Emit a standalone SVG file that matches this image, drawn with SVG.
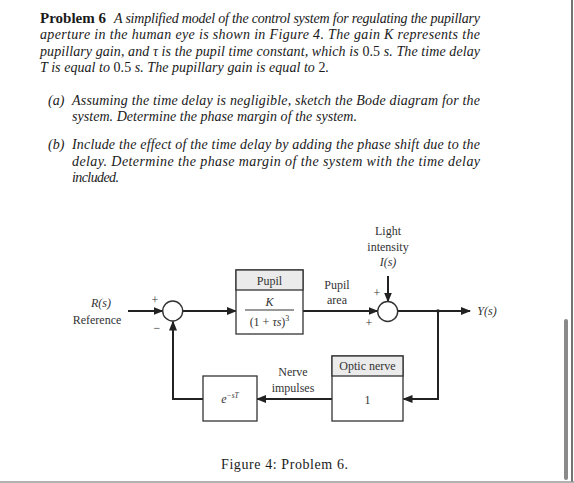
<svg xmlns="http://www.w3.org/2000/svg" width="574" height="483" viewBox="0 0 574 483">
<style>
.p{font-family:"Liberation Serif",serif;font-size:14px;font-style:italic;fill:#1a1a1a}
.r{font-style:normal}
.d{font-family:"Liberation Serif",serif;font-size:12px;fill:#333}
.di{font-family:"Liberation Serif",serif;font-size:12px;font-style:italic;fill:#333}
.ln{stroke:#222;stroke-width:2;fill:none}
.bx{stroke:#333;stroke-width:1.3;fill:#fff}
.hd{stroke:#333;stroke-width:1.3;fill:#ebebeb}
</style>
<defs>
<marker id="ah" markerWidth="10" markerHeight="8" refX="9" refY="4" orient="auto" markerUnits="userSpaceOnUse">
<path d="M0,0 L10,4 L0,8 Z" fill="#222"/>
</marker>
</defs>
<rect width="574" height="483" fill="#fff"/>
<line x1="572" y1="0" x2="572" y2="482" stroke="#444" stroke-width="1.5"/>
<line x1="0" y1="482" x2="574" y2="482" stroke="#999" stroke-width="1.5"/>
<rect x="564" y="319" width="4" height="161" rx="2" fill="#8a8a8a"/>

<g id="problem-text">
<text x="40" y="22.5" style="font-family:'Liberation Serif',serif;font-size:14px;font-weight:bold;fill:#1a1a1a" textLength="66" lengthAdjust="spacingAndGlyphs">Problem 6</text>
<text class="p" x="114" y="22.5" textLength="366" lengthAdjust="spacing">A simplified model of the control system for regulating the pupillary</text>
<text class="p" x="40" y="39" textLength="440" lengthAdjust="spacing">aperture in the human eye is shown in Figure 4.  The gain K represents the</text>
<text class="p" x="40" y="55.5" textLength="440" lengthAdjust="spacing">pupillary gain, and τ is the pupil time constant, which is <tspan class="r">0.5</tspan> s. The time delay</text>
<text class="p" x="40" y="72" textLength="289" lengthAdjust="spacing">T is equal to <tspan class="r">0.5</tspan> s.  The pupillary gain is equal to <tspan class="r">2</tspan>.</text>
<text class="p" x="48" y="105">(a)</text>
<text class="p" x="72" y="105" textLength="408" lengthAdjust="spacing">Assuming the time delay is negligible, sketch the Bode diagram for the</text>
<text class="p" x="72" y="121" textLength="285" lengthAdjust="spacing">system. Determine the phase margin of the system.</text>
<text class="p" x="48" y="149">(b)</text>
<text class="p" x="72" y="149" textLength="408" lengthAdjust="spacing">Include the effect of the time delay by adding the phase shift due to the</text>
<text class="p" x="72" y="165.5" textLength="408" lengthAdjust="spacing">delay.  Determine the phase margin of the system with the time delay</text>
<text class="p" x="72" y="182" textLength="47" lengthAdjust="spacing">included.</text>
</g>

<g id="connectors">
<line class="ln" x1="128" y1="311" x2="162.5" y2="311" marker-end="url(#ah)"/>
<line class="ln" x1="183" y1="311" x2="236" y2="311" marker-end="url(#ah)"/>
<line class="ln" x1="303" y1="311" x2="377.5" y2="311" marker-end="url(#ah)"/>
<line class="ln" x1="388" y1="276" x2="388" y2="301.5" marker-end="url(#ah)"/>
<line class="ln" x1="398" y1="311" x2="470" y2="311" marker-end="url(#ah)"/>
<polyline class="ln" points="438,311 438,399 403.5,399" marker-end="url(#ah)"/>
<line class="ln" x1="332" y1="399" x2="257" y2="399" marker-end="url(#ah)"/>
<polyline class="ln" points="203,399 173,399 173,321.5" marker-end="url(#ah)"/>
<circle cx="438" cy="311" r="1.8" fill="#222"/>
</g>

<g id="input-label">
<text class="di" x="101" y="307" text-anchor="middle">R(s)</text>
<text class="d" x="97" y="324" text-anchor="middle">Reference</text>
</g>

<g id="sum1">
<circle cx="172.7" cy="311" r="10" fill="#fff" stroke="#333" stroke-width="1.4"/>
<text class="d" x="155" y="304" text-anchor="middle">+</text>
<text class="d" x="157" y="332" text-anchor="middle">−</text>
</g>

<g id="pupil">
<rect class="bx" x="236" y="270" width="67" height="64"/>
<rect class="hd" x="236" y="270" width="67" height="20"/>
<text class="d" x="269.5" y="284.5" text-anchor="middle">Pupil</text>
<text class="di" x="269.5" y="306" text-anchor="middle">K</text>
<line x1="245" y1="310" x2="294" y2="310" stroke="#333" stroke-width="1"/>
<text class="d" x="269.5" y="326" text-anchor="middle">(1 + <tspan font-style="italic">τs</tspan>)<tspan font-size="8" dy="-5">3</tspan></text>
</g>

<g id="pupil-area-label">
<text class="d" x="337" y="289" text-anchor="middle">Pupil</text>
<text class="d" x="337" y="304" text-anchor="middle">area</text>
</g>

<g id="light-label">
<text class="d" x="388" y="235" text-anchor="middle">Light</text>
<text class="d" x="388" y="250.5" text-anchor="middle">intensity</text>
<text class="di" x="388" y="266" text-anchor="middle">I(s)</text>
</g>

<g id="sum2">
<circle cx="387.7" cy="311.5" r="10" fill="#fff" stroke="#333" stroke-width="1.4"/>
<text class="d" x="377" y="297" text-anchor="middle">+</text>
<text class="d" x="369" y="326.5" text-anchor="middle">+</text>
</g>

<g id="output-label">
<text class="di" x="487" y="315" text-anchor="middle" font-size="11">Y(s)</text>
</g>

<g id="optic-nerve">
<rect class="bx" x="332" y="356" width="71" height="65"/>
<rect class="hd" x="332" y="356" width="71" height="20"/>
<text class="d" x="367.5" y="370" text-anchor="middle">Optic nerve</text>
<text class="d" x="367.5" y="403.5" text-anchor="middle">1</text>
</g>

<g id="nerve-label">
<text class="d" x="293" y="376" text-anchor="middle">Nerve</text>
<text class="d" x="293" y="391.5" text-anchor="middle">impulses</text>
</g>

<g id="delay">
<rect class="bx" x="203" y="376" width="54" height="45"/>
<text class="di" x="230" y="403" text-anchor="middle" font-size="11">e<tspan font-size="7.5" dy="-5">−sT</tspan></text>
</g>

<g id="caption">
<text x="284.5" y="469" text-anchor="middle" style="font-family:'Liberation Serif',serif;font-size:14px;fill:#1a1a1a" textLength="127" lengthAdjust="spacing">Figure 4: Problem 6.</text>
</g>
</svg>
